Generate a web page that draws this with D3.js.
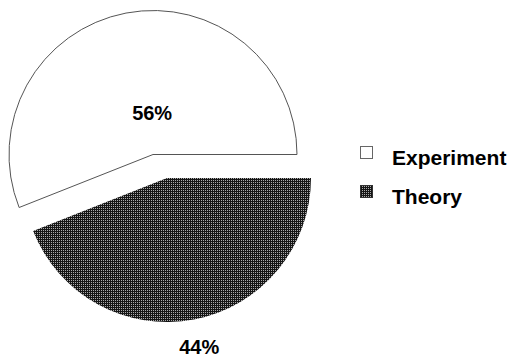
<!DOCTYPE html>
<html><head><meta charset="utf-8">
<script src="https://cdn.jsdelivr.net/npm/d3@7"></script>
<style>html,body{margin:0;padding:0;background:#fff;}svg{display:block;}</style>
</head><body>
<script>
const categories = ["Experiment", "Theory"];
const values = [56, 44];
const labels = ["56%", "44%"];

const W = 509, H = 358, R = 144;
const svg = d3.select("body").append("svg").attr("width", W).attr("height", H);

const defs = svg.append("defs");
const pat = defs.append("pattern").attr("id", "dots").attr("patternUnits", "userSpaceOnUse")
  .attr("width", 2).attr("height", 2);
pat.append("rect").attr("width", 2).attr("height", 2).attr("fill", "#151515");
pat.append("rect").attr("width", 1).attr("height", 1).attr("fill", "#aaaaaa");

const fills = d3.scaleOrdinal().domain(categories).range(["#ffffff", "url(#dots)"]);
const strokes = d3.scaleOrdinal().domain(categories).range(["#555555", "none"]);
// slice origins (exploded)
const centers = {Experiment: [153, 154.5], Theory: [167, 178]};
const labelR = {Experiment: 42, Theory: 172};

// Theory starts at 3 o'clock going clockwise; Experiment fills the rest
const start = Math.PI / 2;
const pie = d3.pie().sort(null).startAngle(start + 2 * Math.PI * values[1] / 100 - 2 * Math.PI)
  .endAngle(start + 2 * Math.PI * values[1] / 100);
const arcs = pie(values).map((d, i) => Object.assign(d, {cat: categories[i], label: labels[i]}));
const arc = d3.arc().innerRadius(0).outerRadius(R);

const g = svg.selectAll("g.slice").data(arcs).join("g")
  .attr("transform", d => `translate(${centers[d.cat][0]},${centers[d.cat][1]})`);
g.append("path").attr("d", arc)
  .attr("fill", d => fills(d.cat))
  .attr("stroke", d => strokes(d.cat)).attr("stroke-width", 1);

g.append("text")
  .attr("x", d => { const a = (d.startAngle + d.endAngle) / 2; return labelR[d.cat] * Math.sin(a) + (d.cat === "Experiment" ? 7 : 0); })
  .attr("y", d => { const a = (d.startAngle + d.endAngle) / 2; return -labelR[d.cat] * Math.cos(a); })
  .attr("dy", "0.36em")
  .attr("text-anchor", "middle")
  .style("font-family", "'Liberation Sans', Arial, sans-serif")
  .style("font-weight", "bold").style("font-size", "20px")
  .text(d => d.label);

// Legend
const legY = d3.scalePoint().domain(categories).range([153, 192]);
const leg = svg.selectAll("g.leg").data(categories).join("g")
  .attr("transform", d => `translate(360,${legY(d)})`);
leg.append("rect").attr("x", 0.5).attr("y", -6.5).attr("width", 12).attr("height", 12)
  .attr("fill", d => fills(d)).attr("stroke", d => d === "Experiment" ? "#666" : "#333").attr("stroke-width", 1);
leg.append("text").attr("x", 32).attr("y", 5).attr("dy", "0.35em")
  .style("font-family", "'Liberation Sans', Arial, sans-serif")
  .style("font-weight", "bold").style("font-size", "21px")
  .text(d => d);
</script>
</body></html>
